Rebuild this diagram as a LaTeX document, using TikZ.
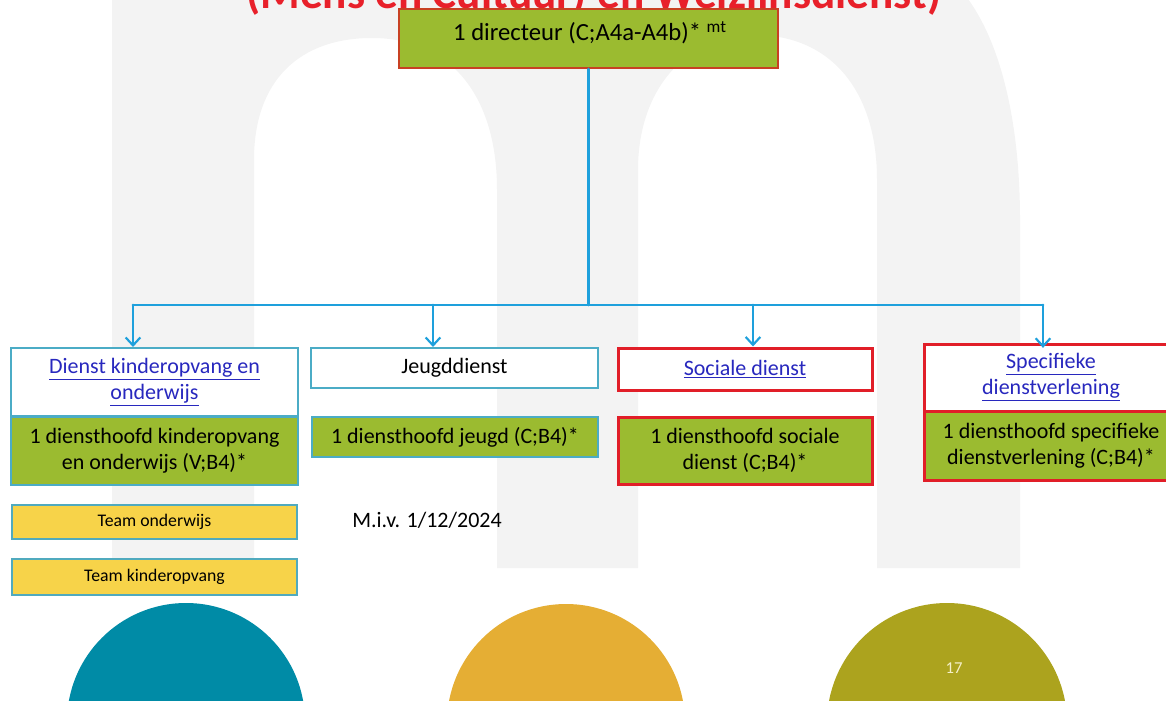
\documentclass[tikz,border=0pt]{standalone}
\usepackage{fontspec}
\setmainfont{Carlito}
\usetikzlibrary{arrows.meta}
\definecolor{grn}{RGB}{155,187,48}
\definecolor{cyb}{RGB}{75,172,198}
\definecolor{lnc}{RGB}{30,160,220}
\definecolor{rdb}{RGB}{225,30,40}
\definecolor{drb}{RGB}{200,65,35}
\definecolor{lnk}{RGB}{40,40,190}
\definecolor{yel}{RGB}{247,211,73}
\definecolor{tmb}{RGB}{80,170,190}
\definecolor{bgm}{RGB}{243,243,243}
\definecolor{ctea}{RGB}{0,139,166}
\definecolor{cyel}{RGB}{229,174,52}
\definecolor{coli}{RGB}{172,163,30}
\definecolor{ttl}{RGB}{232,32,42}
\begin{document}
\begin{tikzpicture}[x=0.75pt,y=-0.75pt,
  obox/.style={draw, rectangle, inner sep=0pt, align=center, text=black,
    font=\fontsize{16.5pt}{19.5pt}\selectfont},
  cybox/.style={obox, draw=cyb, line width=1.5pt},
  rdbox/.style={obox, draw=rdb, line width=2.25pt},
  teambox/.style={obox, draw=tmb, line width=1.5pt, fill=yel,
    font=\fontsize{13.3pt}{15pt}\selectfont},
  conn/.style={draw=lnc, line width=2.2pt, line cap=round, line join=round},
  arr/.style={conn, -{Straight Barb[length=6pt,width=11pt,line width=1.6pt]}}]
\useasboundingbox (0,0) rectangle (1166,700);
\clip (0,0) rectangle (1166,700);
% background m
\fill[bgm] (112,-5) -- (112,568) -- (254,568) -- (254,160)
  .. controls (254,80) and (300,38) .. (372,38)
  .. controls (450,38) and (497,95) .. (497,190) -- (497,568) -- (638,568) -- (638,170)
  .. controls (638,90) and (685,35) .. (755,35)
  .. controls (830,35) and (877,90) .. (877,180) -- (877,568) -- (1020,568) -- (1020,220)
  .. controls (1020,120) and (1000,40) .. (965,-5) -- cycle;
% title (cut off at the top edge)
\node[anchor=base west, text=ttl, inner sep=0pt, font=\fontsize{34pt}{40pt}\selectfont\bfseries] (title) at (246,8) {(Mens en Cultuur) en Welzijnsdienst)};
% director
\node[obox, draw=drb, line width=1.5pt, fill=grn, minimum width=284.25pt, minimum height=44.25pt] (dir) at (588.5,38.5) {};
\node[font=\fontsize{18.5pt}{21pt}\selectfont, inner sep=0pt] (dirt) at (590,33) {1 directeur (C;A4a-A4b)* \textsuperscript{mt}};
% services
\node[cybox, fill=white, minimum width=215.25pt, minimum height=51pt] (dko) at (154.5,382)
  {\textcolor{lnk}{\underline{Dienst kinderopvang en}}\\\textcolor{lnk}{\underline{onderwijs}}};
\node[cybox, fill=grn, minimum width=215.25pt, minimum height=51pt] (dkoh) at (154.5,451)
  {1 diensthoofd kinderopvang\\en onderwijs (V;B4)*};
\node[teambox, minimum width=213.75pt, minimum height=25.5pt] (ton) at (154.5,522) {Team onderwijs};
\node[teambox, minimum width=213.75pt, minimum height=27pt] (tki) at (154.5,577) {Team kinderopvang};
\node[cybox, fill=white, minimum width=215.25pt, minimum height=30pt] (jd) at (454.5,368) {Jeugddienst};
\node[cybox, fill=grn, minimum width=214.5pt, minimum height=30pt] (jdh) at (455,437) {1 diensthoofd jeugd (C;B4)*};
\node[anchor=west, inner sep=0pt, font=\fontsize{16.5pt}{19.5pt}\selectfont] (miv) at (352,520) {M.i.v. 1/12/2024};
\node[rdbox, fill=white, minimum width=190.5pt, minimum height=31.5pt] (soc) at (745,369)
  {\textcolor{lnk}{\underline{Sociale dienst}}};
\node[rdbox, fill=grn, minimum width=190.5pt, minimum height=50.25pt] (soch) at (745,450.5)
  {1 diensthoofd sociale\\dienst (C;B4)*};
\node[rdbox, fill=white, minimum width=190.5pt, minimum height=50.25pt] (spec) at (1051,377.5)
  {\textcolor{lnk}{\underline{Specifieke}}\\\textcolor{lnk}{\underline{dienstverlening}}};
\node[rdbox, fill=grn, minimum width=190.5pt, minimum height=51.75pt] (spech) at (1051,445.5)
  {1 diensthoofd specifieke\\dienstverlening (C;B4)*};
% connectors
\coordinate (bc) at (588.5,305);
\coordinate (b1) at (133,305);
\coordinate (b2) at (433,305);
\coordinate (b3) at (753,305);
\coordinate (b4) at (1043,305);
\draw[conn] (dir.south) -- (bc);
\draw[conn] (b1) -- (b4);
\draw[arr] (b1) -- (b1 |- dko.north);
\draw[arr] (b2) -- (b2 |- jd.north);
\draw[arr] (b3) -- (b3 |- soc.north);
\draw[arr] (b4) -- ([yshift=-1pt]b4 |- soc.north);
% bottom circles
\fill[ctea] (186,722) circle[radius=89.25pt];
\fill[cyel] (566,723) circle[radius=89.25pt];
\fill[coli] (947,723) circle[radius=90pt];
\node[text={rgb,255:red,245;green,240;blue,200}, font=\fontsize{12.5pt}{14pt}\selectfont] (pg) at (954,668) {17};
\end{tikzpicture}
\end{document}
